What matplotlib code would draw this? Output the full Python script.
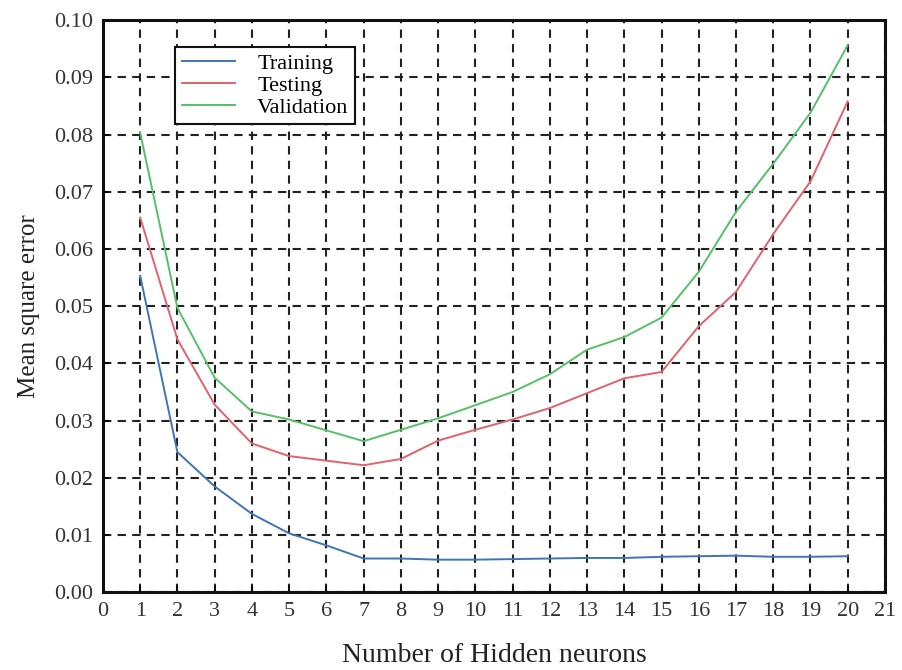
import numpy as np
import matplotlib
matplotlib.use("Agg")
import matplotlib.pyplot as plt

plt.rcParams['font.family'] = ['Liberation Serif', 'DejaVu Serif']

# number of hidden neurons
neurons = np.arange(1, 21)

# values
training = [0.0553, 0.0245, 0.0185, 0.0137, 0.0103, 0.0082, 0.0059, 0.0059, 0.0057, 0.0057,
            0.0058, 0.0059, 0.0060, 0.0060, 0.0062, 0.0063, 0.0064, 0.0062, 0.0062, 0.0063]
testing = [0.0655, 0.0442, 0.0328, 0.0260, 0.0238, 0.0230, 0.0222, 0.0233, 0.0265, 0.0284,
           0.0302, 0.0322, 0.0348, 0.0374, 0.0385, 0.0465, 0.0525, 0.0626, 0.0718, 0.0858]
validation = [0.0803, 0.0497, 0.0375, 0.0316, 0.0302, 0.0283, 0.0264, 0.0284, 0.0304, 0.0327,
              0.0350, 0.0381, 0.0424, 0.0446, 0.0480, 0.0560, 0.0665, 0.0749, 0.0838, 0.0956]

x_ticks = np.arange(0, 22)
y_ticks = np.arange(0, 0.101, 0.01)

fig = plt.figure(figsize=(9.03, 6.70), dpi=100)
ax = fig.add_axes([0.114, 0.116, 0.866, 0.854])

ax.plot(neurons, training, color="#3f74b8", lw=1.4, label="Training")
ax.plot(neurons, testing, color="#e0626c", lw=1.4, label="Testing")
ax.plot(neurons, validation, color="#55c066", lw=1.4, label="Validation")

ax.set_xlim(0, 21)
ax.set_ylim(0, 0.10)
ax.set_xticks(x_ticks)
ax.set_yticks(y_ticks)
ax.set_yticklabels(["%.2f" % v for v in y_ticks])
ax.tick_params(direction="in", length=4, width=1.2, labelsize=16, pad=7,
               labelcolor="#333333")

# dashed grid like the scanned original
ax.grid(True, color="#222222", linestyle=(0, (4, 3)), linewidth=1.5)
for s in ax.spines.values():
    s.set_linewidth(2.2)
    s.set_color("#111111")

ax.set_xlabel("Number of Hidden neurons", fontsize=20, labelpad=16, color="#222222")
ax.set_ylabel("Mean square error", fontsize=18, labelpad=10, color="#222222")

leg = ax.legend(loc="upper left", bbox_to_anchor=(0.092, 0.953), fontsize=16,
                frameon=True, fancybox=False, handlelength=2.4, borderpad=0.3,
                labelspacing=0.05, handletextpad=1.0, borderaxespad=0)
leg.get_frame().set_edgecolor("#111111")
leg.get_frame().set_linewidth(1.5)
leg.get_frame().set_alpha(1)

fig.savefig("out.png", dpi=100)
